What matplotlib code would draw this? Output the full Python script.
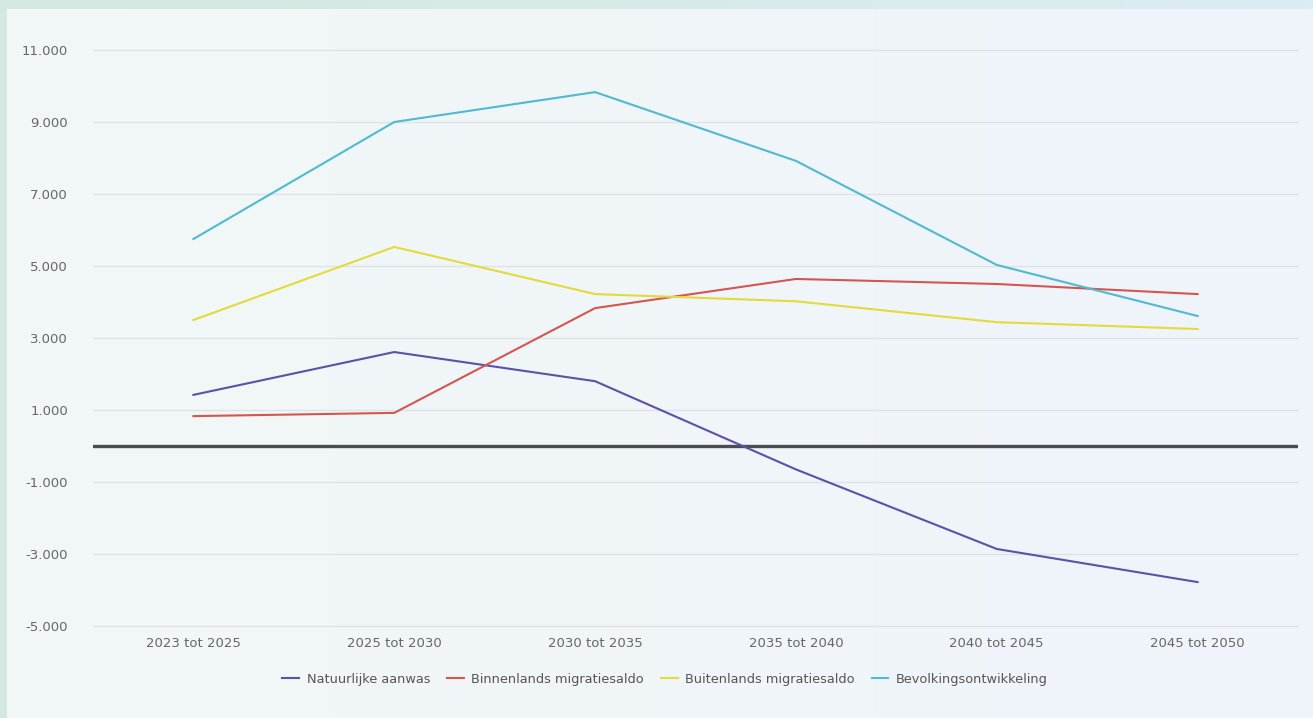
import numpy as np
import matplotlib.pyplot as plt
from matplotlib.ticker import FuncFormatter

periods = ["2023 tot 2025", "2025 tot 2030", "2030 tot 2035",
           "2035 tot 2040", "2040 tot 2045", "2045 tot 2050"]
natuurlijke_aanwas = [1420, 2610, 1800, -650, -2860, -3780]
binnenlands_saldo = [830, 920, 3830, 4640, 4500, 4220]
buitenlands_saldo = [3500, 5530, 4220, 4020, 3440, 3250]
bevolkingsontwikkeling = [5750, 9000, 9830, 7920, 5030, 3610]

series_names = ["Natuurlijke aanwas", "Binnenlands migratiesaldo",
                "Buitenlands migratiesaldo", "Bevolkingsontwikkeling"]
series_colors = ["#5b52a8", "#d5554f", "#e3da3c", "#4fbad0"]
y_ticks = [-5000, -3000, -1000, 1000, 3000, 5000, 7000, 9000, 11000]

W, H = 1313, 718
fig = plt.figure(figsize=(W / 100, H / 100), dpi=100)

# page background: soft green/blue frame with a pale panel on top
bg = fig.add_axes([0, 0, 1, 1], zorder=-10)
bg.set_axis_off()
gx = np.linspace(0, 1, 256)
frame = np.zeros((2, 256, 3))
left_c = np.array([0xd3, 0xe9, 0xdf]) / 255
right_c = np.array([0xdc, 0xec, 0xf4]) / 255
frame[:] = left_c[None, :] * (1 - gx[:, None]) + right_c[None, :] * gx[:, None]
bg.imshow(frame, extent=[0, 1, 0, 1], aspect="auto")
panel = np.zeros((2, 256, 3))
pl = np.array([0xf2, 0xf7, 0xf6]) / 255
pr = np.array([0xee, 0xf4, 0xfa]) / 255
panel[:] = pl[None, :] * (1 - gx[:, None]) + pr[None, :] * gx[:, None]
bg.imshow(panel, extent=[7 / W, 1, 0, 1 - 9 / H], aspect="auto")
bg.set_xlim(0, 1)
bg.set_ylim(0, 1)

ax = fig.add_axes([93 / W, 1 - 626 / H, 1205 / W, 576 / H])
ax.patch.set_alpha(0)
x = np.arange(len(periods))

for vals, name, col in zip([natuurlijke_aanwas, binnenlands_saldo,
                            buitenlands_saldo, bevolkingsontwikkeling],
                           series_names, series_colors):
    ax.plot(x, vals, color=col, lw=1.5, label=name, zorder=3)

ax.axhline(0, color="#4a4d50", lw=2.4, zorder=2)

ax.set_xlim(-0.5, len(periods) - 0.5)
ax.set_ylim(-5000, 11000)
ax.set_yticks(y_ticks)
ax.yaxis.set_major_formatter(FuncFormatter(lambda v, p: f"{int(v):,}".replace(",", ".")))
ax.set_xticks(x)
ax.set_xticklabels(periods)
ax.grid(axis="y", color="#dfe3e5", lw=1)
for gl in ax.get_ygridlines():
    gl.set_clip_on(False)
ax.set_axisbelow(True)
for s in ax.spines.values():
    s.set_visible(False)
ax.tick_params(axis="both", length=0, colors="#666666", labelsize=9.5)
ax.tick_params(axis="y", pad=18)
ax.tick_params(axis="x", pad=8)

handles, labels = ax.get_legend_handles_labels()
leg = fig.legend(handles, labels, loc="center", bbox_to_anchor=(665 / W, 1 - 679 / H),
                 ncol=4, frameon=False, fontsize=9.3, handlelength=1.3,
                 handletextpad=0.6, columnspacing=1.3)
for t in leg.get_texts():
    t.set_color("#555555")

fig.savefig("out.png", dpi=100)
